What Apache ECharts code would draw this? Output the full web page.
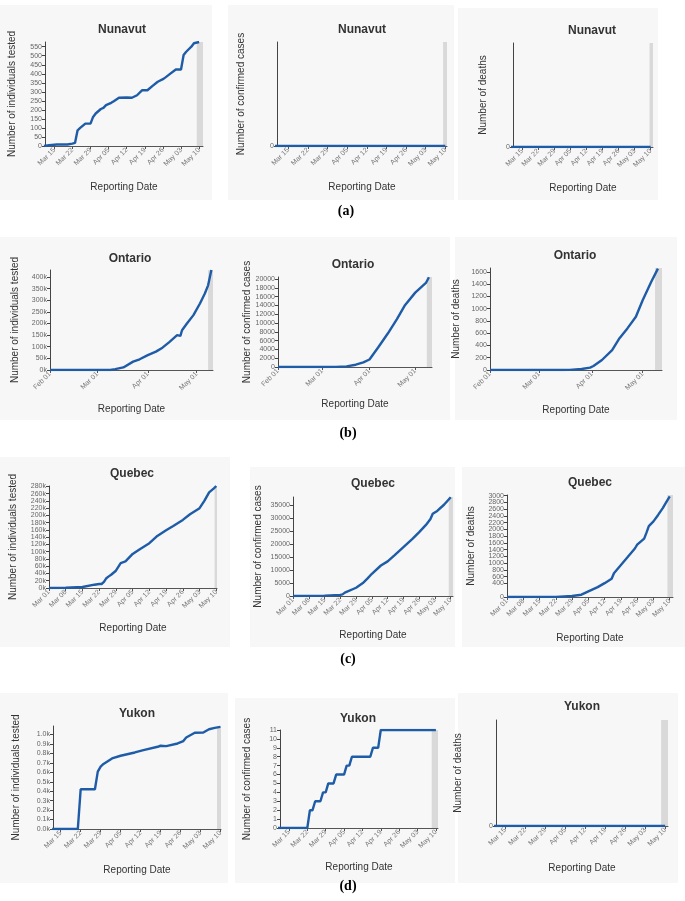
<!DOCTYPE html>
<html><head><meta charset="utf-8">
<script src="https://cdn.jsdelivr.net/npm/echarts@6/dist/echarts.min.js"></script>
<style>html,body{margin:0;padding:0;background:#fff}#c{width:685px;height:901px}</style>
</head><body><div id="c"></div>
<script>
// ---------------- data (dates as MM-DD in 2020) ----------------
const weeklyTicks = ['03-15','03-22','03-29','04-05','04-12','04-19','04-26','05-03','05-10'];
const quebecTicks = ['03-01','03-08','03-15','03-22','03-29','04-05','04-12','04-19','04-26','05-03','05-10'];
const monthlyTicks = ['02-01','03-01','04-01','05-01'];

const nunavutTestedDates = ['03-11','03-13','03-16','03-20','03-22','03-23','03-24','03-25','03-27','03-29','03-30','03-31','04-02','04-03','04-04','04-06','04-07','04-09','04-12','04-14','04-16','04-18','04-20','04-22','04-24','04-26','04-27','04-29','05-01','05-03','05-04','05-05','05-07','05-08','05-10'];
const nunavutTestedValues = [0,4,8,8,13,17,87,100,124,124,161,180,205,211,226,239,248,267,269,267,281,309,309,333,356,370,380,402,424,424,504,522,550,569,576];
const nunavutCasesDates = ['03-10','05-10'];
const nunavutCasesValues = [0,0];
const nunavutDeathsDates = ['03-10','05-10'];
const nunavutDeathsValues = [0,0];

const ontarioTestedDates = ['02-01','03-09','03-12','03-17','03-23','03-27','04-01','04-06','04-10','04-14','04-19','04-21','04-22','04-25','04-29','05-03','05-06','05-08','05-10'];
const ontarioTestedValues = [0,0,4000,11000,36000,46000,64000,79000,96000,119000,150000,147000,171000,200000,236000,286000,329000,364000,430000];
const ontarioCasesDates = ['02-01','03-01','03-10','03-17','03-23','03-28','04-01','04-07','04-13','04-19','04-24','05-01','05-08','05-10'];
const ontarioCasesValues = [0,5,30,150,520,1040,1700,4600,7600,10900,13900,16900,19100,20400];
const ontarioDeathsDates = ['02-01','03-15','03-19','03-26','03-31','04-02','04-07','04-13','04-17','04-22','04-27','05-01','05-06','05-10'];
const ontarioDeathsValues = [0,0,2,16,38,65,163,326,505,679,868,1139,1437,1655];

const quebecTestedDates = ['03-01','03-08','03-15','03-20','03-22','03-23','03-24','03-25','03-26','03-27','03-29','03-31','04-02','04-05','04-08','04-12','04-15','04-19','04-22','04-26','04-29','05-03','05-05','05-07','05-09','05-10'];
const quebecTestedValues = [0,500,2700,9100,11000,11000,17000,27000,32000,36600,47600,68600,73200,94000,107000,123500,141800,159000,171000,187600,203000,220000,240000,263500,274500,281000];
const quebecCasesDates = ['03-01','03-15','03-22','03-23','03-24','03-29','04-01','04-03','04-05','04-09','04-12','04-15','04-19','04-23','04-26','04-29','05-01','05-02','05-04','05-07','05-10'];
const quebecCasesValues = [0,150,450,640,1300,3200,5000,6700,8600,11800,13400,15700,18900,22100,24700,27500,29800,31800,32900,35300,38200];
const quebecDeathsDates = ['03-01','03-22','03-29','04-02','04-05','04-09','04-12','04-15','04-16','04-19','04-22','04-25','04-26','04-29','04-30','05-01','05-03','05-05','05-07','05-08','05-10'];
const quebecDeathsValues = [0,5,30,68,166,293,410,538,704,948,1190,1436,1550,1730,1906,2100,2240,2430,2630,2750,2980];

const yukonTestedDates = ['03-12','03-21','03-22','03-27','03-28','03-29','03-30','04-02','04-05','04-10','04-13','04-18','04-19','04-21','04-25','04-27','04-28','05-01','05-04','05-06','05-08','05-10'];
const yukonTestedValues = [0,0,420,420,607,660,688,747,775,810,835,870,881,877,905,930,968,1018,1021,1056,1070,1081];
const yukonCasesDates = ['03-10','03-22','03-23','03-24','03-25','03-27','03-28','03-29','03-30','04-01','04-02','04-05','04-06','04-07','04-08','04-15','04-16','04-18','04-19','05-10'];
const yukonCasesValues = [0,0,2,2,3,3,4,4,5,5,6,6,7,7,8,8,9,9,11,11];
const yukonDeathsDates = ['03-10','05-10'];
const yukonDeathsValues = [0,0];

const sectionLabels = ['(a)','(b)','(c)','(d)'];

// ---------------- helpers ----------------
const MONTH = ['Jan','Feb','Mar','Apr','May','Jun'];
const BASE = Date.UTC(2020,2,1);
function dayOf(md){const [m,d]=md.split('-').map(Number);return Math.round((Date.UTC(2020,m-1,d)-BASE)/864e5);}
function fmtDay(v){const dt=new Date(BASE+Math.round(v)*864e5);return MONTH[dt.getUTCMonth()]+' '+String(dt.getUTCDate()).padStart(2,'0');}
const kFmt = v => (v/1000)+'k';
const k1Fmt = v => (v/1000).toFixed(1)+'k';
const FONT = '"Liberation Sans", Arial, sans-serif';
const LINE = '#1f5ca8';

const TESTED='Number of individuals tested', CASES='Number of confirmed cases', DEATHS='Number of deaths';

// ---------------- layout ----------------
const panels = [
 {t:'Nunavut',d:nunavutTestedDates,v:nunavutTestedValues,y:TESTED,ticks:weeklyTicks,g:[45,42,158,104],tx:122,ty:30,yg:28,xg:36,x0:10.4,x1:71.5,band:69.1,yMax:576,yInt:50,bg:[0,5,212,195]},
 {t:'Nunavut',d:nunavutCasesDates,v:nunavutCasesValues,y:CASES,ticks:weeklyTicks,g:[277,42,170,104],tx:362,ty:30,yg:31,xg:36,x0:10,x1:70.6,band:69.2,yMax:1,yInt:1,bg:[228,5,226,195]},
 {t:'Nunavut',d:nunavutDeathsDates,v:nunavutDeathsValues,y:DEATHS,ticks:weeklyTicks,g:[513,43,140,104],tx:592,ty:31,yg:25,xg:36,x0:10,x1:71,band:69.5,yMax:1,yInt:1,bg:[458,8,200,192]},
 {t:'Ontario',d:ontarioTestedDates,v:ontarioTestedValues,y:TESTED,ticks:monthlyTicks,g:[50,270,163,100],tx:130,ty:259,yg:30,xg:34,x0:-29,x1:71,band:68,yMax:430000,yInt:50000,yFmt:kFmt,bg:[0,237,228,183]},
 {t:'Ontario',d:ontarioCasesDates,v:ontarioCasesValues,y:CASES,ticks:monthlyTicks,g:[278,277,154,90],tx:353,ty:265,yg:26,xg:32,x0:-29,x1:72,band:68.6,yMax:20450,yInt:2000,bg:[228,237,222,183]},
 {t:'Ontario',d:ontarioDeathsDates,v:ontarioDeathsValues,y:DEATHS,ticks:monthlyTicks,g:[490,268,172,102],tx:575,ty:256,yg:29,xg:35,x0:-29,x1:72.4,band:68.3,yMax:1665,yInt:200,bg:[455,237,222,183]},
 {t:'Quebec',d:quebecTestedDates,v:quebecTestedValues,y:TESTED,ticks:quebecTicks,g:[49,486,168,102],tx:132,ty:474,yg:31,xg:35,x0:0,x1:70.3,band:69.3,yMax:281000,yInt:20000,yFmt:kFmt,bg:[0,457,230,190]},
 {t:'Quebec',d:quebecCasesDates,v:quebecCasesValues,y:CASES,ticks:quebecTicks,g:[293,497,160,99],tx:373,ty:484,yg:30,xg:34,x0:0,x1:71,band:69.1,yMax:38300,yInt:5000,bg:[250,467,205,180]},
 {t:'Quebec',d:quebecDeathsDates,v:quebecDeathsValues,y:DEATHS,ticks:quebecTicks,g:[507,495,166,102],tx:590,ty:483,yg:31,xg:36,x0:0,x1:71.4,band:69,yMax:3020,yInt:200,bg:[462,467,223,180]},
 {t:'Yukon',d:yukonTestedDates,v:yukonTestedValues,y:TESTED,ticks:weeklyTicks,g:[53,726,168,103],tx:137,ty:714,yg:32,xg:36,x0:11.3,x1:70.2,band:68.8,yMax:1090,yInt:100,yFmt:k1Fmt,bg:[0,693,228,190]},
 {t:'Yukon',d:yukonCasesDates,v:yukonCasesValues,y:CASES,ticks:weeklyTicks,g:[280,730,158,98],tx:358,ty:719,yg:28,xg:34,x0:10.6,x1:70.8,band:68.4,yMax:11,yInt:1,showMax:true,bg:[235,698,220,185]},
 {t:'Yukon',d:yukonDeathsDates,v:yukonDeathsValues,y:DEATHS,ticks:weeklyTicks,g:[496,720,172,106],tx:582,ty:707,yg:33,xg:37,x0:10.8,x1:71,band:68.6,yMax:1,yInt:1,bg:[458,693,220,190]}
];
const labelPos = [[346,211],[348,433],[348,659],[348,886]];

// ---------------- build option ----------------
const grid=[],xAxis=[],yAxis=[],series=[],graphic=[];
panels.forEach((p,i)=>{
  graphic.push({type:'rect',z:-10,shape:{x:p.bg[0],y:p.bg[1],width:p.bg[2],height:p.bg[3]},style:{fill:'#f7f7f7'}});
  graphic.push({type:'text',z:10,x:p.tx,y:p.ty,style:{text:p.t,font:'bold 12px '+FONT,fill:'#333',align:'center',verticalAlign:'middle'}});
  grid.push({left:p.g[0],top:p.g[1],width:p.g[2],height:p.g[3],containLabel:false,outerBoundsMode:'none'});
  const tickVals = p.ticks.map(dayOf);
  xAxis.push({gridIndex:i,type:'value',min:p.x0,max:p.x1,
    name:'Reporting Date',nameLocation:'middle',nameGap:p.xg,nameMoveOverlap:false,
    nameTextStyle:{fontSize:10,color:'#333',fontFamily:FONT},
    axisLine:{show:true,onZero:false,lineStyle:{color:'#555',width:1}},
    axisTick:{show:true,length:3,customValues:tickVals,lineStyle:{color:'#555'}},
    axisLabel:{rotate:45,fontSize:7,color:'#777',margin:3,fontFamily:FONT,hideOverlap:false,customValues:tickVals,formatter:fmtDay},
    splitLine:{show:false}});
  yAxis.push({gridIndex:i,type:'value',min:0,max:p.yMax,interval:p.yInt,
    name:p.y,nameLocation:'middle',nameGap:p.yg,nameMoveOverlap:false,
    nameTextStyle:{fontSize:10,color:'#333',fontFamily:FONT},
    axisLine:{show:true,onZero:false,lineStyle:{color:'#444',width:1}},
    axisTick:{show:true,length:3,lineStyle:{color:'#444'}},
    axisLabel:{fontSize:7,color:'#666',margin:3,fontFamily:FONT,hideOverlap:false,showMinLabel:true,showMaxLabel:!!p.showMax,formatter:p.yFmt||(v=>String(v))},
    splitLine:{show:false}});
  series.push({type:'line',xAxisIndex:i,yAxisIndex:i,showSymbol:false,symbol:'none',clip:true,
    lineStyle:{color:LINE,width:2.4},itemStyle:{color:LINE},silent:true,animation:false,
    data:p.d.map((d,j)=>[dayOf(d),p.v[j]]),
    markArea:{silent:true,itemStyle:{color:'#d9d9d9'},data:[[{xAxis:p.band},{xAxis:p.x1}]]}});
});
sectionLabels.forEach((s,i)=>{
  graphic.push({type:'text',z:10,x:labelPos[i][0],y:labelPos[i][1],style:{text:s,font:'bold 14px "Liberation Serif", "Times New Roman", serif',fill:'#000',align:'center',verticalAlign:'middle'}});
});

const chart = echarts.init(document.getElementById('c'),null,{renderer:'canvas'});
chart.setOption({animation:false,backgroundColor:'#ffffff',textStyle:{fontFamily:FONT},grid,xAxis,yAxis,series,graphic});
</script></body></html>
